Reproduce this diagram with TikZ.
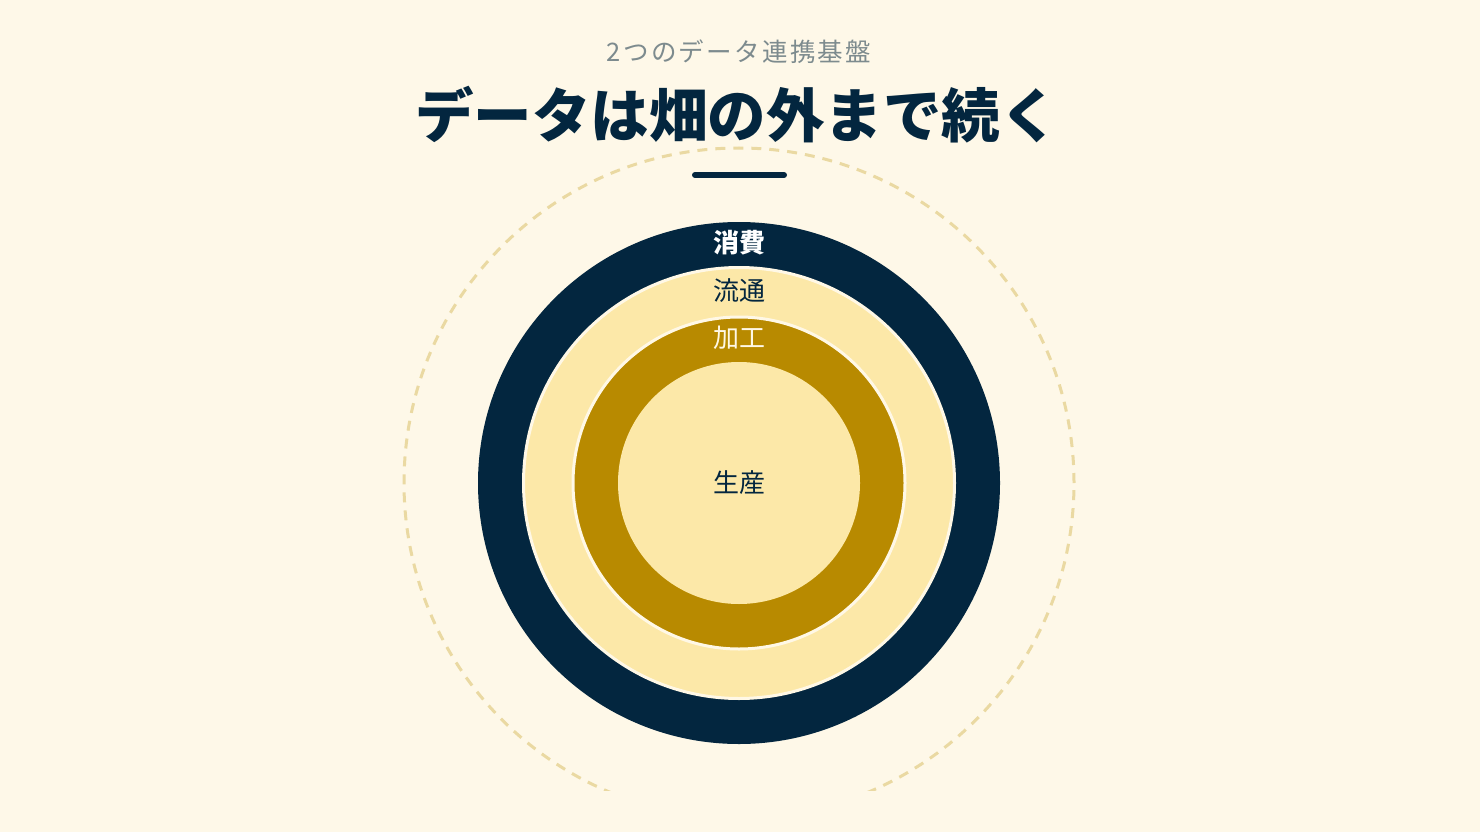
\documentclass[tikz,border=0pt]{standalone}
\usepackage{fontspec}
\newfontfamily\cjk{Noto Sans CJK JP}
\newfontfamily\cjksub[LetterSpace=9]{Noto Sans CJK JP}
\definecolor{bg}{HTML}{FEF8E8}
\definecolor{navy}{HTML}{03263F}
\definecolor{lightyel}{HTML}{FCE8A8}
\definecolor{gold}{HTML}{B88A00}
\definecolor{cream}{HTML}{FFF8E6}
\definecolor{subgray}{HTML}{7D8B8E}
\definecolor{dashcol}{HTML}{EAD9A2}
\tikzset{
  ring/.style={circle, inner sep=0pt, outer sep=0pt},
  lab/.style={inner sep=0pt, font=\cjk\fontsize{26}{30}\selectfont},
}
\begin{document}
\begin{tikzpicture}[x=1pt,y=-1pt]
\fill[bg] (0,0) rectangle (1480,832);
\useasboundingbox (0,0) rectangle (1480,832);
\coordinate (c) at (739,483);
% dashed outer circle, clipped at bottom
\begin{scope}
\clip (0,0) rectangle (1480,790);
\node[ring, draw=dashcol, line width=3pt, dash pattern=on 10pt off 8pt, minimum size=670pt] (outer) at (c) {};
\end{scope}
% rings
\node[ring, fill=navy, minimum size=522pt] (consume) at (c) {};
\node[ring, fill=lightyel, draw=cream, line width=3pt, minimum size=431pt] (dist) at (c) {};
\node[ring, fill=gold, draw=cream, line width=3pt, minimum size=332pt] (proc) at (c) {};
\node[ring, fill=lightyel, minimum size=242pt] (prod) at (c) {};
% labels
\node[lab, text=white, font=\cjk\bfseries\fontsize{26}{30}\selectfont] (l1) at (739,243) {消費};
\node[lab, text=navy] (l2) at (739,291) {流通};
\node[lab, text=cream] (l3) at (739,338) {加工};
\node[lab, text=navy] (l4) at (739,483) {生産};
% titles
\node[inner sep=0pt, text=subgray, font=\cjksub\fontsize{25.5}{30}\selectfont] (sub) at (739,52) {2つのデータ連携基盤};
\node[inner sep=0pt, text=navy, font=\cjk\bfseries\fontsize{58.5}{64}\selectfont] (title) at (737,115) {データは畑の外まで続く};
\coordinate (ul1) at (695,175);
\coordinate (ul2) at (784,175);
\draw[navy, line width=6pt, line cap=round] (ul1) -- (ul2);
\end{tikzpicture}
\end{document}
